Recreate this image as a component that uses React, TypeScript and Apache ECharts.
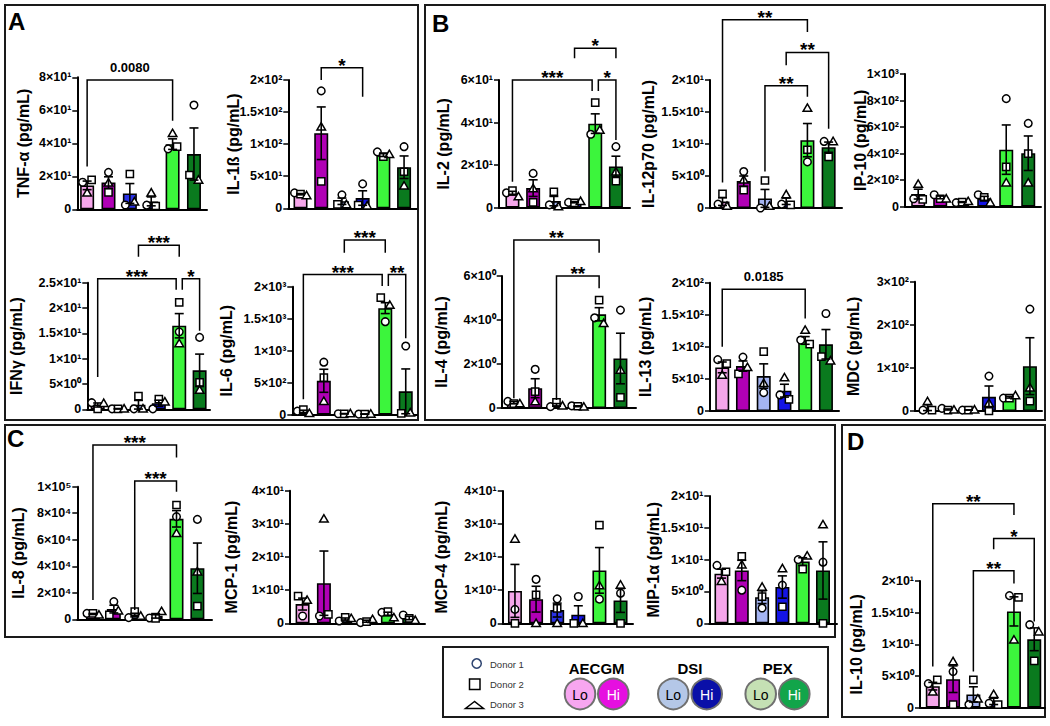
import React, { useEffect, useRef } from "react";
import * as echarts from "echarts";

const FONT = '"Liberation Sans", Arial, Helvetica, sans-serif';

const GROUPS = ["AECGM Lo", "AECGM Hi", "DSI Lo", "DSI Hi", "PEX Lo", "PEX Hi"];
const BAR_COLORS = ["#f5a6ea", "#b000b5", "#a4b4f2", "#1414e6", "#3cf53c", "#0a7a1e"];

// ---------- A ----------
const tnfTicks = ["0", "2×10¹", "4×10¹", "6×10¹", "8×10¹"];
const tnfMean = [14.5, 16.2, 9.6, 4.8, 39.5, 33.5];
const tnfSem = [2.6, 3.5, 6, 2.7, 3.2, 15.8];
const tnfD1 = [16.4, 22.4, 2.6, 2.5, 36.6, 63.2];
const tnfD2 = [17.8, 10.3, 21.4, 2, 38, 20.8];
const tnfD3 = [10, 16, 4.6, 10, 46, 17.8];
const tnfBr = [[0, 4, 78.4, 25.9, 53.7]];
const tnfSig = ["0.0080"];

const il1bTicks = ["0", "5×10¹", "1×10²", "1.5×10²", "2×10²"];
const il1bMean = [22, 117, 11, 16, 83, 64];
const il1bSem = [1, 41, 5, 11.3, 2.2, 17.6];
const il1bD1 = [24, 183, 21, 38, 88, 96];
const il1bD2 = [22, 42, 6, 5, 80.5, 57];
const il1bD3 = [20, 127, 6, 4, 84, 35];
const il1bBr = [[1, 3, 219, 200, 174]];
const il1bSig = ["*"];

const ifngTicks = ["0", "5×10⁰", "1×10¹", "1.5×10¹", "2×10¹", "2.5×10¹"];
const ifngMean = [0.85, 0.1, 0.9, 1.2, 16.5, 7.7];
const ifngSem = [0.4, 0.05, 0.85, 0.6, 2.4, 3.2];
const ifngD1 = [1.3, 0.1, 0.1, 0.1, 15.3, 14.2];
const ifngD2 = [0.1, 0.1, 2.6, 2, 21.1, 5.3];
const ifngD3 = [1.2, 0.1, 0.1, 1.5, 13, 3.8];
const ifngBr = [[2, 4, 32.4, 30.1, 30.1], [0, 3.85, 25.8, 6.4, 23.6], [4.15, 5, 25.8, 23.6, 15.5]];
const ifngSig = ["***", "***", "*"];

const il6Ticks = ["0", "5×10²", "1×10³", "1.5×10³", "2×10³"];
const il6Mean = [52, 530, 15, 10, 1665, 365];
const il6Sem = [18, 180, 3, 2, 85, 350];
const il6D1 = [55, 820, 15, 10, 1453, 1073];
const il6D2 = [80, 580, 12, 8, 1828, 20];
const il6D3 = [20, 210, 18, 12, 1713, 30];
const il6Br = [[2, 4, 2729, 2531, 2531], [0, 3.85, 2190, 240, 2010], [4.15, 5, 2190, 2010, 1193]];
const il6Sig = ["***", "***", "**"];

// ---------- B ----------
const il2Ticks = ["0", "2×10¹", "4×10¹", "6×10¹"];
const il2Mean = [6.8, 9.2, 3.1, 2.6, 39.5, 19.4];
const il2Sem = [0.9, 3.9, 2.2, 0.3, 4.6, 4.8];
const il2D1 = [7, 16.1, 1.3, 2.5, 34.5, 28.7];
const il2D2 = [8, 2.5, 7.5, 2.3, 49.4, 12.5];
const il2D3 = [5.2, 9, 0.5, 3, 36.5, 16.9];
const il2Br = [[3, 5, 74.9, 70.2, 70.2], [0, 3.85, 60, 12.2, 54.8], [4.15, 5, 60, 54.8, 31.8]];
const il2Sig = ["*", "***", "*"];

const il12Ticks = ["0", "5×10⁰", "1×10¹", "1.5×10¹", "2×10¹"];
const il12Mean = [1.0, 4.2, 1.5, 1.05, 10.6, 9.5];
const il12Sem = [0.6, 0.8, 1.4, 0.5, 2.6, 0.8];
const il12D1 = [0.6, 5.7, 0, 0.6, 7.2, 10.4];
const il12D2 = [2.2, 2.8, 4.3, 0.5, 9.1, 8];
const il12D3 = [0.3, 4.4, 0.3, 2.1, 15.6, 10.4];
const il12Br = [[0, 4, 29.4, 4, 27.5], [3, 5, 24.3, 22.3, 12.4], [2, 4, 19.1, 5.7, 17.4]];
const il12Sig = ["**", "**", "**"];

const ip10Ticks = ["0", "2×10²", "4×10²", "6×10²", "8×10²", "1×10³"];
const ip10Mean = [95, 70, 35, 63, 430, 403];
const ip10Sem = [37, 10, 3, 15, 186, 130];
const ip10D1 = [60, 90, 30, 90, 814, 628];
const ip10D2 = [55, 60, 35, 70, 300, 400];
const ip10D3 = [170, 60, 40, 30, 181, 180];

const il4Ticks = ["0", "2×10⁰", "4×10⁰", "6×10⁰"];
const il4Mean = [0.24, 0.9, 0.14, 0.08, 4.26, 2.25];
const il4Sem = [0.05, 0.43, 0.06, 0.02, 0.3, 1.15];
const il4D1 = [0.3, 1.76, 0.06, 0.1, 4.1, 4.45];
const il4D2 = [0.2, 0.74, 0.26, 0.08, 4.9, 0.48];
const il4D3 = [0.2, 0.29, 0.1, 0.05, 3.85, 1.73];
const il4Br = [[0, 4, 7.64, 0.44, 7.06], [2, 4, 6, 0.36, 5.44]];
const il4Sig = ["**", "**"];

const il13Ticks = ["0", "5×10¹", "1×10²", "1.5×10²", "2×10²"];
const il13Mean = [68, 70, 54.5, 31.7, 110, 104];
const il13Sem = [8.4, 8, 19, 10, 6, 23];
const il13D1 = [80, 84, 28.6, 25, 110.6, 152];
const il13D2 = [74, 58, 92.5, 18.2, 104.4, 84.7];
const il13D3 = [56, 68, 43, 52, 126, 78.4];
const il13Br = [[0, 4, 189.6, 100, 144]];
const il13Sig = ["0.0185"];

const mdcTicks = ["0", "1×10²", "2×10²", "3×10²"];
const mdcMean = [8, 3.5, 2.3, 33, 32, 104];
const mdcSem = [7, 1.2, 0.3, 25, 2, 66];
const mdcD1 = [2, 6, 2, 81, 30, 236.5];
const mdcD2 = [2, 2, 2, 0, 30, 23];
const mdcD3 = [22, 2.5, 3, 18, 36, 54];

// ---------- C ----------
const il8Ticks = ["0", "2×10⁴", "4×10⁴", "6×10⁴", "8×10⁴", "1×10⁵"];
const il8Mean = [4000, 7700, 3200, 2600, 75800, 38500];
const il8Sem = [400, 2900, 1350, 1700, 6200, 19000];
const il8D1 = [4500, 13300, 1250, 1000, 77400, 75400];
const il8D2 = [4500, 3300, 5800, 700, 86200, 10000];
const il8D3 = [3300, 6500, 2500, 6000, 64800, 35900];
const il8Br = [[0, 4, 131400, 14600, 122100], [2, 4, 104300, 7000, 96250]];
const il8Sig = ["***", "***"];

const mcp1Ticks = ["0", "1×10¹", "2×10¹", "3×10¹", "4×10¹"];
const mcp1Mean = [5.8, 12.1, 1.3, 0.63, 2.8, 1.6];
const mcp1Sem = [1.8, 9.7, 0.3, 0.3, 0.55, 0.5];
const mcp1D1 = [2.2, 2.2, 0.7, 0.2, 3.3, 2.5];
const mcp1D2 = [8.2, 2.7, 1.8, 0.5, 3.5, 1.5];
const mcp1D3 = [7, 31.5, 1.5, 1.2, 1.7, 0.9];

const mcp4Ticks = ["0", "1×10¹", "2×10¹", "3×10¹", "4×10¹"];
const mcp4Mean = [9.8, 7.3, 4, 2.6, 16, 6.9];
const mcp4Sem = [8, 3.9, 2.1, 2.7, 6.9, 3.6];
const mcp4D1 = [4.2, 13.3, 7.4, 8.1, 7.3, 9.1];
const mcp4D2 = [0, 8.6, 4.5, 0, 29.7, 0];
const mcp4D3 = [25.5, 0, 0, 0, 11.4, 11.6];

const mip1aTicks = ["0", "5×10⁰", "1×10¹", "1.5×10¹", "2×10¹"];
const mip1aMean = [7.8, 8.3, 4.1, 5.7, 9.7, 8.3];
const mip1aSem = [0.7, 1.6, 1, 1.75, 0.6, 4.5];
const mip1aD1 = [9.1, 5.2, 2.4, 6, 10, 9.6];
const mip1aD2 = [8.1, 10.5, 4.2, 2.6, 8.5, 0];
const mip1aD3 = [6.6, 9.2, 5.7, 8.6, 10.6, 15.5];

// ---------- D ----------
const il10Ticks = ["0", "5×10⁰", "1×10¹", "1.5×10¹", "2×10¹"];
const il10Mean = [3.4, 4.5, 2.1, 1.0, 15.2, 10.8];
const il10Sem = [0.6, 2.1, 1.2, 0.5, 2.3, 1.8];
const il10D1 = [3.8, 5.7, 0.5, 0.7, 17.7, 13.1];
const il10D2 = [4.4, 0.5, 4.4, 0.5, 17.4, 7.4];
const il10D3 = [2.5, 7.3, 1.4, 2.1, 10.7, 12];
const il10Br = [[0, 4, 32.2, 6.5, 30.4], [3, 5, 26.7, 25, 13.6], [2, 4, 21.6, 5.7, 19.6]];
const il10Sig = ["**", "*", "**"];

const CHARTS = [
  { title: "TNF-α (pg/mL)", max: 80, interval: 20, ticks: tnfTicks, mean: tnfMean, sem: tnfSem, d1: tnfD1, d2: tnfD2, d3: tnfD3, br: tnfBr, sig: tnfSig },
  { title: "IL-1ß (pg/mL)", max: 200, interval: 50, ticks: il1bTicks, mean: il1bMean, sem: il1bSem, d1: il1bD1, d2: il1bD2, d3: il1bD3, br: il1bBr, sig: il1bSig },
  { title: "IFNγ (pg/mL)", max: 25, interval: 5, ticks: ifngTicks, mean: ifngMean, sem: ifngSem, d1: ifngD1, d2: ifngD2, d3: ifngD3, br: ifngBr, sig: ifngSig },
  { title: "IL-6 (pg/mL)", max: 2000, interval: 500, ticks: il6Ticks, mean: il6Mean, sem: il6Sem, d1: il6D1, d2: il6D2, d3: il6D3, br: il6Br, sig: il6Sig },
  { title: "IL-2 (pg/mL)", max: 60, interval: 20, ticks: il2Ticks, mean: il2Mean, sem: il2Sem, d1: il2D1, d2: il2D2, d3: il2D3, br: il2Br, sig: il2Sig },
  { title: "IL-12p70 (pg/mL)", max: 20, interval: 5, ticks: il12Ticks, mean: il12Mean, sem: il12Sem, d1: il12D1, d2: il12D2, d3: il12D3, br: il12Br, sig: il12Sig },
  { title: "IP-10 (pg/mL)", max: 1000, interval: 200, ticks: ip10Ticks, mean: ip10Mean, sem: ip10Sem, d1: ip10D1, d2: ip10D2, d3: ip10D3, br: [], sig: [] },
  { title: "IL-4 (pg/mL)", max: 6, interval: 2, ticks: il4Ticks, mean: il4Mean, sem: il4Sem, d1: il4D1, d2: il4D2, d3: il4D3, br: il4Br, sig: il4Sig },
  { title: "IL-13 (pg/mL)", max: 200, interval: 50, ticks: il13Ticks, mean: il13Mean, sem: il13Sem, d1: il13D1, d2: il13D2, d3: il13D3, br: il13Br, sig: il13Sig },
  { title: "MDC (pg/mL)", max: 300, interval: 100, ticks: mdcTicks, mean: mdcMean, sem: mdcSem, d1: mdcD1, d2: mdcD2, d3: mdcD3, br: [], sig: [] },
  { title: "IL-8 (pg/mL)", max: 100000, interval: 20000, ticks: il8Ticks, mean: il8Mean, sem: il8Sem, d1: il8D1, d2: il8D2, d3: il8D3, br: il8Br, sig: il8Sig },
  { title: "MCP-1 (pg/mL)", max: 40, interval: 10, ticks: mcp1Ticks, mean: mcp1Mean, sem: mcp1Sem, d1: mcp1D1, d2: mcp1D2, d3: mcp1D3, br: [], sig: [] },
  { title: "MCP-4 (pg/mL)", max: 40, interval: 10, ticks: mcp4Ticks, mean: mcp4Mean, sem: mcp4Sem, d1: mcp4D1, d2: mcp4D2, d3: mcp4D3, br: [], sig: [] },
  { title: "MIP-1α (pg/mL)", max: 20, interval: 5, ticks: mip1aTicks, mean: mip1aMean, sem: mip1aSem, d1: mip1aD1, d2: mip1aD2, d3: mip1aD3, br: [], sig: [] },
  { title: "IL-10 (pg/mL)", max: 20, interval: 5, ticks: il10Ticks, mean: il10Mean, sem: il10Sem, d1: il10D1, d2: il10D2, d3: il10D3, br: il10Br, sig: il10Sig },
];

// layout (pixels): axis left, axis right, top (max), bottom (zero), name gap, x extent
const LAYOUT = [
  { l: 77.3, r: 207, t: 77.3, b: 209.3, gap: 46, xmin: -0.46, xmax: 5.61, c3: "#2a32e6" },
  { l: 288.3, r: 416.7, t: 80, b: 208.3, gap: 47, xmin: -0.59, xmax: 5.61 },
  { l: 87.3, r: 210, t: 282.7, b: 409.3, gap: 63, xmin: -0.51, xmax: 5.51 },
  { l: 292.3, r: 417, t: 286.7, b: 414.7, gap: 58, xmin: -0.54, xmax: 5.55 },
  { l: 499, r: 630, t: 80, b: 207.7, gap: 48, xmin: -0.65, xmax: 5.68 },
  { l: 710, r: 842, t: 80, b: 208, gap: 54, xmin: -0.59, xmax: 5.63 },
  { l: 905, r: 1041, t: 74, b: 206.7, gap: 37, xmin: -0.6, xmax: 5.58 },
  { l: 501.7, r: 636, t: 276, b: 408, gap: 52, xmin: -0.57, xmax: 5.73 },
  { l: 710, r: 839, t: 282.7, b: 411, gap: 57, xmin: -0.59, xmax: 5.63 },
  { l: 915, r: 1042, t: 281.7, b: 411, gap: 54, xmin: -0.61, xmax: 5.59 },
  { l: 77.3, r: 212, t: 486.7, b: 619.3, gap: 51, xmin: -0.75, xmax: 5.7 },
  { l: 290, r: 425, t: 490.7, b: 623.3, gap: 51, xmin: -0.59, xmax: 5.74 },
  { l: 502.7, r: 633, t: 491, b: 623.3, gap: 53, xmin: -0.58, xmax: 5.59, c3: "#2a32e6" },
  { l: 709.3, r: 837, t: 496, b: 623.3, gap: 48, xmin: -0.6, xmax: 5.69 },
  { l: 920, r: 1045, t: 581, b: 707.7, gap: 56, xmin: -0.63, xmax: 5.53 },
];

const BLACK = "#000";

function renderPoints(params: any, api: any) {
  const i = api.value(0);
  const m = api.value(1);
  const s = api.value(2);
  const vals = [api.value(3), api.value(4), api.value(5)];
  const cx = api.coord([i, 0])[0];
  const ys = vals.map((v: number) => api.coord([i, v])[1]);
  const order = [0, 1, 2].sort((a, b) => ys[a] - ys[b]);
  const offs = [0, 0, 0];
  const clusters: number[][] = [];
  let cur = [order[0]];
  for (let k = 1; k < 3; k++) {
    if (ys[order[k]] - ys[order[k - 1]] < 7.5) cur.push(order[k]);
    else {
      clusters.push(cur);
      cur = [order[k]];
    }
  }
  clusters.push(cur);
  clusters.forEach((cl) => {
    const sorted = cl.slice().sort((a, b) => a - b);
    if (sorted.length === 2) {
      offs[sorted[0]] = -4.5;
      offs[sorted[1]] = 4.5;
    } else if (sorted.length === 3) {
      offs[sorted[0]] = -6;
      offs[sorted[1]] = 0;
      offs[sorted[2]] = 6;
    }
  });
  const ptStyle = { fill: "#fff", stroke: BLACK, lineWidth: 1.5 };
  const children: any[] = [];
  // donor 1: circle, donor 2: square, donor 3: triangle
  children.push({ type: "circle", shape: { cx: cx + offs[0], cy: ys[0], r: 3.8 }, style: ptStyle });
  children.push({ type: "rect", shape: { x: cx + offs[1] - 3.6, y: ys[1] - 3.6, width: 7.2, height: 7.2 }, style: ptStyle });
  children.push({
    type: "polygon",
    shape: { points: [[cx + offs[2], ys[2] - 4.2], [cx + offs[2] - 4.3, ys[2] + 3.2], [cx + offs[2] + 4.3, ys[2] + 3.2]] },
    style: ptStyle,
  });
  const yTop = api.coord([i, m + s])[1];
  const lo = Math.max(0, m - s);
  const yBot = api.coord([i, lo])[1];
  const ls = { stroke: BLACK, lineWidth: 1.6 };
  children.push({ type: "line", shape: { x1: cx, y1: yTop, x2: cx, y2: yBot }, style: ls });
  children.push({ type: "line", shape: { x1: cx - 4.5, y1: yTop, x2: cx + 4.5, y2: yTop }, style: ls });
  if (lo > 0) children.push({ type: "line", shape: { x1: cx - 4.5, y1: yBot, x2: cx + 4.5, y2: yBot }, style: ls });
  return { type: "group", children };
}

function makeBracketRenderer(sig: string[]) {
  return (params: any, api: any) => {
    const x1 = api.coord([api.value(0), 0])[0];
    const x2 = api.coord([api.value(1), 0])[0];
    const yt = api.coord([0, api.value(2)])[1];
    const ye1 = api.coord([0, api.value(3)])[1];
    const ye2 = api.coord([0, api.value(4)])[1];
    const label = sig[params.dataIndex];
    const isStar = /^\*+$/.test(label);
    return {
      type: "group",
      children: [
        {
          type: "polyline",
          shape: { points: [[x1, ye1], [x1, yt], [x2, yt], [x2, ye2]] },
          style: { stroke: BLACK, lineWidth: 1.5, fill: null },
        },
        {
          type: "text",
          style: {
            text: label,
            x: (x1 + x2) / 2,
            y: isStar ? yt - 2.5 : yt - 12.7,
            align: "center",
            verticalAlign: "middle",
            textAlign: "center",
            textVerticalAlign: "middle",
            font: isStar ? `bold 19px ${FONT}` : `bold 13px ${FONT}`,
            fill: BLACK,
          },
        },
      ],
    };
  };
}

function buildOption() {
  const grids: any[] = [];
  const xAxes: any[] = [];
  const yAxes: any[] = [];
  const series: any[] = [];
  CHARTS.forEach((c, k) => {
    const lay: any = LAYOUT[k];
    const cols = BAR_COLORS.slice();
    if (lay.c3) cols[2] = lay.c3;
    grids.push({ left: lay.l, top: lay.t, width: lay.r - lay.l, height: lay.b - lay.t, containLabel: false, outerBoundsMode: "none" });
    xAxes.push({
      type: "value",
      gridIndex: k,
      min: lay.xmin,
      max: lay.xmax,
      axisLine: { show: true, onZero: false, lineStyle: { color: BLACK, width: 2 } },
      axisTick: { show: false },
      axisLabel: { show: false },
      splitLine: { show: false },
    });
    yAxes.push({
      type: "value",
      gridIndex: k,
      min: 0,
      max: c.max,
      interval: c.interval,
      axisLine: { show: true, onZero: false, lineStyle: { color: BLACK, width: 2 } },
      axisTick: { show: true, length: 5, lineStyle: { color: BLACK, width: 1.5 } },
      axisLabel: {
        show: true,
        formatter: (v: number) => c.ticks[Math.round(v / c.interval)] ?? "",
        fontSize: 12.5,
        fontWeight: "bold",
        color: BLACK,
        fontFamily: FONT,
        margin: 6,
        hideOverlap: false,
      },
      splitLine: { show: false },
      name: c.title,
      nameLocation: "middle",
      nameGap: lay.gap,
      nameRotate: 90,
      nameMoveOverlap: false,
      nameTextStyle: { fontSize: 16, fontWeight: "bold", color: BLACK, fontFamily: FONT },
    });
    series.push({
      type: "bar",
      name: c.title,
      xAxisIndex: k,
      yAxisIndex: k,
      barWidth: 14,
      z: 2,
      itemStyle: { borderColor: BLACK, borderWidth: 1.6 },
      data: c.mean.map((v, i) => ({ name: GROUPS[i], value: [i, v], itemStyle: { color: cols[i] } })),
    });
    series.push({
      type: "custom",
      xAxisIndex: k,
      yAxisIndex: k,
      z: 3,
      clip: false,
      renderItem: renderPoints,
      data: c.mean.map((v, i) => [i, v, c.sem[i], c.d1[i], c.d2[i], c.d3[i]]),
    });
    if (c.br.length) {
      series.push({
        type: "custom",
        xAxisIndex: k,
        yAxisIndex: k,
        z: 4,
        clip: false,
        renderItem: makeBracketRenderer(c.sig),
        data: c.br,
      });
    }
  });

  const frame = (x: number, y: number, w: number, h: number) => ({
    type: "rect",
    silent: true,
    shape: { x, y, width: w, height: h },
    style: { fill: "none", stroke: "#1a1a1a", lineWidth: 2 },
    z: 0,
  });
  const txt = (text: string, x: number, y: number, font: string, fill = BLACK, align = "left") => ({
    type: "text",
    silent: true,
    x,
    y,
    style: { text, font, fill, align, verticalAlign: "middle", textAlign: align, textVerticalAlign: "middle" },
    z: 10,
  });
  const legendCircle = (cx: number, fill: string, label: string, labelFill: string) => [
    { type: "circle", silent: true, shape: { cx, cy: 694, r: 15.3 }, style: { fill, stroke: "#707070", lineWidth: 2 }, z: 10 },
    txt(label, cx, 694.5, `14px ${FONT}`, labelFill, "center"),
  ];

  const graphic: any[] = [
    frame(5, 5, 413, 415),
    frame(425, 5, 620, 415),
    frame(5, 425, 830, 212),
    frame(842, 425, 203, 292),
    frame(443, 647, 385, 70),
    txt("A", 8, 21.5, `bold 24px ${FONT}`),
    txt("B", 432, 23.5, `bold 24px ${FONT}`),
    txt("C", 7, 438.5, `bold 24px ${FONT}`),
    txt("D", 847, 441.5, `bold 24px ${FONT}`),
    { type: "circle", silent: true, shape: { cx: 476.7, cy: 663.5, r: 4.6 }, style: { fill: "#fff", stroke: "#2e4470", lineWidth: 1.5 }, z: 10 },
    { type: "rect", silent: true, shape: { x: 469.5, y: 679, width: 10.5, height: 10.5 }, style: { fill: "#fff", stroke: BLACK, lineWidth: 1.5 }, z: 10 },
    { type: "polygon", silent: true, shape: { points: [[474.5, 701.5], [465.5, 708.5], [483.5, 708.5]] }, style: { fill: "#fff", stroke: BLACK, lineWidth: 1.5 }, z: 10 },
    txt("Donor 1", 490, 664, `9.5px ${FONT}`, "#333"),
    txt("Donor 2", 490, 684.3, `9.5px ${FONT}`, "#333"),
    txt("Donor 3", 490, 704, `9.5px ${FONT}`, "#333"),
    txt("AECGM", 596.7, 668.3, `bold 15px ${FONT}`, BLACK, "center"),
    txt("DSI", 690, 668.3, `bold 15px ${FONT}`, BLACK, "center"),
    txt("PEX", 777.7, 668.3, `bold 15px ${FONT}`, BLACK, "center"),
    ...legendCircle(580, "#f7a6f0", "Lo", BLACK),
    ...legendCircle(613.3, "#e60fe0", "Hi", "#fff"),
    ...legendCircle(673.3, "#b4c7e7", "Lo", BLACK),
    ...legendCircle(706.7, "#0a10a8", "Hi", "#fff"),
    ...legendCircle(760.7, "#c5e0b4", "Lo", BLACK),
    ...legendCircle(794.3, "#12a54a", "Hi", "#fff"),
  ];

  return {
    animation: false,
    backgroundColor: "#fff",
    textStyle: { fontFamily: FONT },
    grid: grids,
    xAxis: xAxes,
    yAxis: yAxes,
    series,
    graphic,
  };
}

export default function App() {
  const ref = useRef<HTMLDivElement>(null);
  useEffect(() => {
    if (!ref.current) return;
    const chart = echarts.init(ref.current, null, { renderer: "svg" });
    chart.setOption(buildOption() as any);
    return () => chart.dispose();
  }, []);
  return (
    <div
      ref={ref}
      style={{ position: "absolute", left: 0, top: 0, width: 1050, height: 726, background: "#fff" }}
    />
  );
}
